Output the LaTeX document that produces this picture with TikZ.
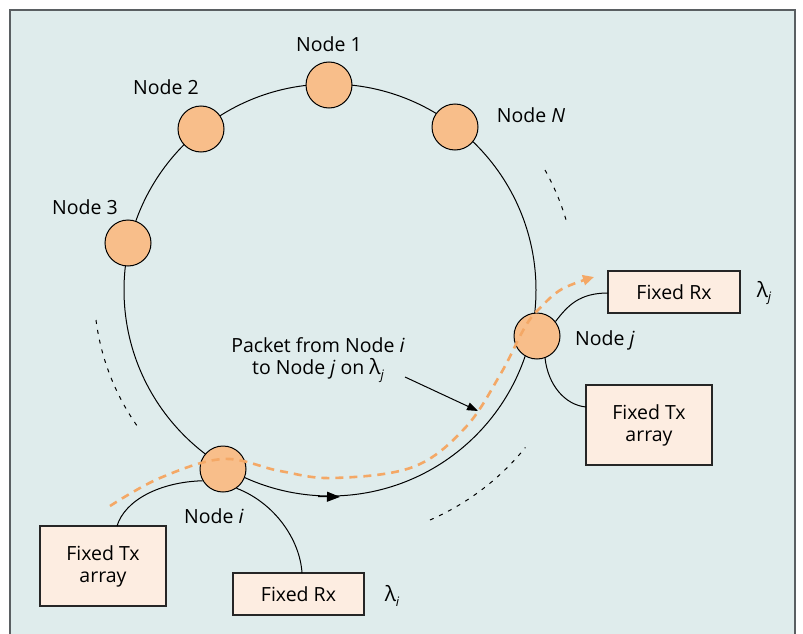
\documentclass[tikz,border=0pt]{standalone}
\usepackage{fontspec}
\setmainfont{Open Sans}
\usetikzlibrary{arrows.meta,calc}
\definecolor{panel}{HTML}{DFECEC}
\definecolor{framegray}{HTML}{5A5F62}
\definecolor{nodefill}{HTML}{F8BE8A}
\definecolor{boxfill}{HTML}{FDEDE1}
\definecolor{pathorange}{HTML}{F4A866}
\newcommand{\lam}[1]{{\fontsize{21}{21}\selectfont λ}\raisebox{-0.45ex}{\fontsize{13}{13}\selectfont\itshape #1}}
\begin{document}
\begin{tikzpicture}[x=1pt,y=-1pt,
  every node/.style={font=\fontsize{19.5}{22}\selectfont, text=black},
  station/.style={circle, draw=black, line width=1pt, fill=nodefill, minimum size=46pt, inner sep=0pt},
  unitbox/.style={draw=black!85, line width=1.2pt, fill=boxfill, inner sep=0pt, align=center},
  link/.style={black, line width=1pt},
  hint/.style={black, line width=1pt, dash pattern=on 4pt off 6pt},
  packet/.style={pathorange, line width=2.6pt, dash pattern=on 8pt off 6pt}]
\useasboundingbox (0,0) rectangle (803,634);
% panel
\fill[panel] (10,10) rectangle (795,640);
\draw[framegray, line width=1.6pt] (10,640) -- (10,10) -- (795,10) -- (795,640);

% ring
\coordinate (c) at (330,290);
\draw[link] (c) circle[radius=206];
\coordinate (a1) at (318,496.6);
\coordinate (a2) at (340,496.9);
\draw[link, -{Triangle[length=13pt,width=10pt]}] (a1) -- (a2);

% continuation hints
\draw[hint] (545,170) arc[start angle=-29.2, end angle=-16.4, radius=246];
\draw[hint] (96,320) arc[start angle=172.7, end angle=145, radius=236];
\draw[hint] (430,520) arc[start angle=66.5, end angle=39, radius=252];

% stations
\node[station] (n1) at (329,85) {};
\node[station] (n2) at (201,129) {};
\node[station] (n3) at (128,243) {};
\node[station] (nN) at (455,127) {};
\node[station] (ni) at (223,469) {};
\node[station] (nj) at (537,336) {};

\node (l1) at (329,44) {Node 1};
\node (l2) at (166,87) {Node 2};
\node (l3) at (85,207) {Node 3};
\node (lN) at (531,115) {Node \textit{N}};
\node (li) at (214,516) {Node \textit{i}};
\node (lj) at (605,340) {Node \textit{j}};

% transmitter / receiver units
\node[unitbox, minimum width=132pt, minimum height=42pt] (rxj) at (674,292) {Fixed Rx};
\node[unitbox, minimum width=126pt, minimum height=80pt] (txj) at (649,425) {Fixed Tx\\array};
\node[unitbox, minimum width=126pt, minimum height=80pt] (txi) at (103,566) {Fixed Tx\\array};
\node[unitbox, minimum width=131pt, minimum height=42pt] (rxi) at (298.5,594) {Fixed Rx};
\node (lamj) at (764,293) {\lam{j}};
\node (lami) at (392,596) {\lam{i}};

\coordinate (txiin) at (117,526);
\coordinate (rxiin) at (302,573);
\coordinate (rxjin) at (608,293);
\coordinate (txjin) at (586,407);
\draw[link] (ni.210) .. controls (160,482) and (125,500) .. (txiin);
\draw[link] (ni.305) .. controls (275,503) and (300,540) .. (rxiin);
\draw[link] (nj.38) .. controls (568,305) and (580,293) .. (rxjin);
\draw[link] (nj.290) .. controls (548,385) and (565,405) .. (txjin);

% packet route
\draw[packet, -{Triangle[length=11pt,width=10pt]}] plot[smooth, tension=0.6] coordinates
  {(110,506) (160,478) (223,459) (280,471) (333,478) (413,467) (465,428) (500,375) (525,327) (540,308) (562,289) (594,277)};

% annotation
\node[align=center] (note) at (318,360) {Packet from Node \textit{i}\\to Node \textit{j} on \lam{j}};
\coordinate (ns) at (405,377);
\coordinate (ne) at (478,411);
\draw[link, -{Triangle[length=11pt,width=8pt]}] (ns) -- (ne);
\end{tikzpicture}
\end{document}
